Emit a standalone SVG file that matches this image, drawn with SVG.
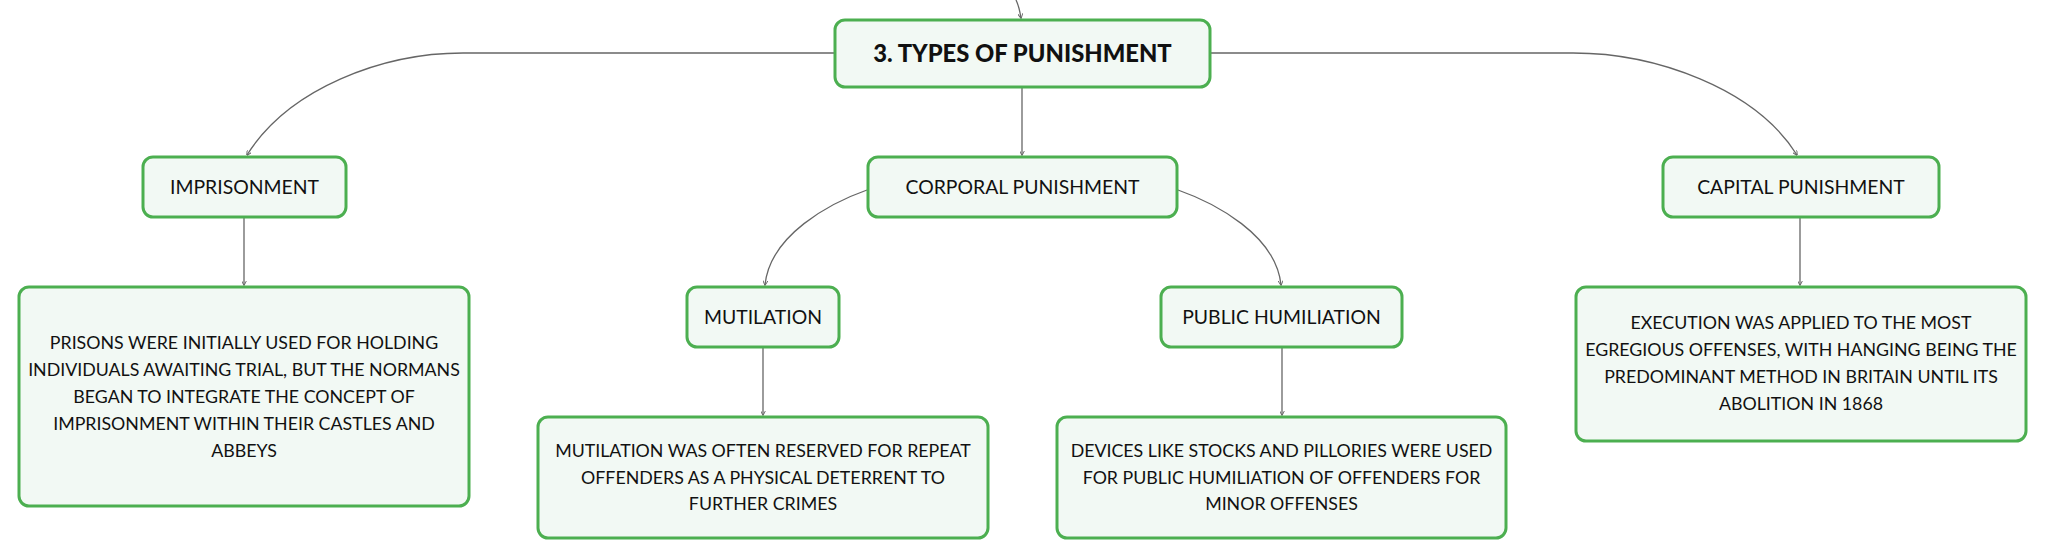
<svg xmlns="http://www.w3.org/2000/svg" width="2046" height="559" viewBox="0 0 2046 559">
<defs>
<style>
.box{fill:#f2f9f4;stroke:#4caf50;stroke-width:3}
.lbl{font-family:Lato,"Open Sans","Liberation Sans",sans-serif;font-size:19.4px;fill:#111;text-anchor:middle}
.ttl{font-family:Lato,"Open Sans","Liberation Sans",sans-serif;font-size:23.8px;font-weight:900;fill:#111;text-anchor:middle}
.dsc{font-family:Lato,"Open Sans","Liberation Sans",sans-serif;font-size:17.8px;fill:#111;text-anchor:middle}
.edge{fill:none;stroke:#666;stroke-width:1.3;marker-end:url(#arr)}
</style>
<marker id="arr" viewBox="0 0 8 8" refX="7" refY="4" markerWidth="5" markerHeight="5" markerUnits="userSpaceOnUse" orient="auto">
<path d="M0,0 L8,4 L0,8" fill="none" stroke="#666" stroke-width="1.5"/>
</marker>
</defs>
<rect width="2046" height="559" fill="#ffffff"/>
<g id="connectors">
<path class="edge" d="M1016,0 Q1019,6 1021,18"/>
<path class="edge" d="M835,53 H463 C383,53 289,88 247,155"/>
<path class="edge" d="M1022,87 V155"/>
<path class="edge" d="M1210,53 H1573 C1655,53 1755,88 1797,155"/>
<path class="edge" d="M244,217 V285"/>
<path class="edge" d="M867,190 C830,203 770,235 765,285"/>
<path class="edge" d="M1178,190 C1215,203 1276,235 1281,285"/>
<path class="edge" d="M763,347 V415"/>
<path class="edge" d="M1282,347 V415"/>
<path class="edge" d="M1800,217 V285"/>
</g>
<g id="node-main">
<rect class="box" x="835" y="20" width="375" height="67" rx="10"/>
<text class="ttl" x="1022.5" y="62">3. TYPES OF PUNISHMENT</text>
</g>
<g id="node-imprisonment">
<rect class="box" x="143" y="157" width="203" height="60" rx="10"/>
<text class="lbl" x="244.5" y="194">IMPRISONMENT</text>
</g>
<g id="node-corporal">
<rect class="box" x="868" y="157" width="309" height="60" rx="10"/>
<text class="lbl" x="1022.5" y="194">CORPORAL PUNISHMENT</text>
</g>
<g id="node-capital">
<rect class="box" x="1663" y="157" width="276" height="60" rx="10"/>
<text class="lbl" x="1801" y="194">CAPITAL PUNISHMENT</text>
</g>
<g id="node-mutilation">
<rect class="box" x="687" y="287" width="152" height="60" rx="10"/>
<text class="lbl" x="763" y="324">MUTILATION</text>
</g>
<g id="node-public">
<rect class="box" x="1161" y="287" width="241" height="60" rx="10"/>
<text class="lbl" x="1281.5" y="324">PUBLIC HUMILIATION</text>
</g>
<g id="node-imprisonment-desc">
<rect class="box" x="19" y="287" width="450" height="219" rx="10"/>
<text class="dsc" x="244" y="348.5">PRISONS WERE INITIALLY USED FOR HOLDING</text>
<text class="dsc" x="244" y="375.5">INDIVIDUALS AWAITING TRIAL, BUT THE NORMANS</text>
<text class="dsc" x="244" y="402.5">BEGAN TO INTEGRATE THE CONCEPT OF</text>
<text class="dsc" x="244" y="429.5">IMPRISONMENT WITHIN THEIR CASTLES AND</text>
<text class="dsc" x="244" y="456.5">ABBEYS</text>
</g>
<g id="node-mutilation-desc">
<rect class="box" x="538" y="417" width="450" height="121" rx="10"/>
<text class="dsc" x="763" y="456.5">MUTILATION WAS OFTEN RESERVED FOR REPEAT</text>
<text class="dsc" x="763" y="483.5">OFFENDERS AS A PHYSICAL DETERRENT TO</text>
<text class="dsc" x="763" y="509.5">FURTHER CRIMES</text>
</g>
<g id="node-public-desc">
<rect class="box" x="1057" y="417" width="449" height="121" rx="10"/>
<text class="dsc" x="1281.5" y="456.5">DEVICES LIKE STOCKS AND PILLORIES WERE USED</text>
<text class="dsc" x="1281.5" y="483.5">FOR PUBLIC HUMILIATION OF OFFENDERS FOR</text>
<text class="dsc" x="1281.5" y="509.5">MINOR OFFENSES</text>
</g>
<g id="node-capital-desc">
<rect class="box" x="1576" y="287" width="450" height="154" rx="10"/>
<text class="dsc" x="1801" y="328.5">EXECUTION WAS APPLIED TO THE MOST</text>
<text class="dsc" x="1801" y="355.5">EGREGIOUS OFFENSES, WITH HANGING BEING THE</text>
<text class="dsc" x="1801" y="382.5">PREDOMINANT METHOD IN BRITAIN UNTIL ITS</text>
<text class="dsc" x="1801" y="409.5">ABOLITION IN 1868</text>
</g>
</svg>
